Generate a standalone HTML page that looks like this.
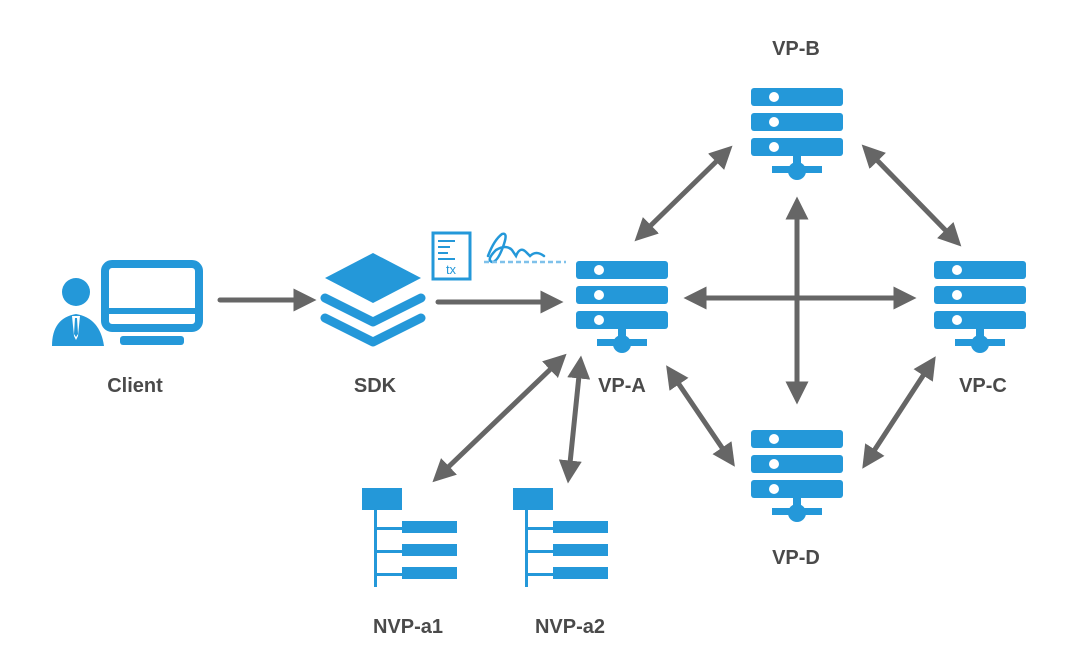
<!DOCTYPE html>
<html><head><meta charset="utf-8"><style>
html,body{margin:0;padding:0;background:#fff;}
svg{display:block;}
text{font-family:"Comic Sans MS","Liberation Sans",sans-serif;font-weight:bold;fill:#4a4a4a;font-size:20px;text-anchor:middle;}
</style></head><body>
<svg width="1078" height="649" viewBox="0 0 1078 649" xmlns="http://www.w3.org/2000/svg">
<defs>
<marker id="ah" markerWidth="4.6" markerHeight="4.6" refX="2.5" refY="2.3" orient="auto-start-reverse" markerUnits="strokeWidth">
<path d="M0,0 L4.6,2.3 L0,4.6 Z" fill="#666"/>
</marker>
<g id="srv">
<rect x="0" y="0" width="92" height="18" rx="3" fill="#2498d9"/>
<rect x="0" y="25" width="92" height="18" rx="3" fill="#2498d9"/>
<rect x="0" y="50" width="92" height="18" rx="3" fill="#2498d9"/>
<circle cx="23" cy="9" r="5" fill="#fff"/>
<circle cx="23" cy="34" r="5" fill="#fff"/>
<circle cx="23" cy="59" r="5" fill="#fff"/>
<rect x="21" y="78" width="50" height="7" fill="#2498d9"/>
<circle cx="46" cy="83" r="9" fill="#2498d9"/>
<rect x="42" y="68" width="8" height="10" fill="#2498d9"/>
</g>
<g id="nvp">
<rect x="0" y="0" width="40" height="22" fill="#2498d9"/>
<rect x="12" y="22" width="3" height="77" fill="#2498d9"/>
<rect x="12" y="39" width="30" height="3" fill="#2498d9"/>
<rect x="12" y="62" width="30" height="3" fill="#2498d9"/>
<rect x="12" y="85" width="30" height="3" fill="#2498d9"/>
<rect x="40" y="33" width="55" height="12" fill="#2498d9"/>
<rect x="40" y="56" width="55" height="12" fill="#2498d9"/>
<rect x="40" y="79" width="55" height="12" fill="#2498d9"/>
</g>
</defs>

<g stroke="#666" stroke-width="5" fill="none" stroke-linecap="round">
<line x1="220" y1="300" x2="306" y2="300" marker-end="url(#ah)"/>
<line x1="438" y1="302" x2="553" y2="302" marker-end="url(#ah)"/>
<line x1="694" y1="298" x2="906" y2="298" marker-start="url(#ah)" marker-end="url(#ah)"/>
<line x1="797" y1="207" x2="797" y2="394" marker-start="url(#ah)" marker-end="url(#ah)"/>
<line x1="642" y1="234" x2="725" y2="153" marker-start="url(#ah)" marker-end="url(#ah)"/>
<line x1="869" y1="152" x2="954" y2="239" marker-start="url(#ah)" marker-end="url(#ah)"/>
<line x1="672" y1="374" x2="729" y2="458" marker-start="url(#ah)" marker-end="url(#ah)"/>
<line x1="930" y1="365" x2="868" y2="460" marker-start="url(#ah)" marker-end="url(#ah)"/>
<line x1="440" y1="475" x2="559" y2="361" marker-start="url(#ah)" marker-end="url(#ah)"/>
<line x1="569" y1="473" x2="580" y2="366" marker-start="url(#ah)" marker-end="url(#ah)"/>
</g>

<use href="#srv" x="576" y="261"/>
<use href="#srv" x="751" y="88"/>
<use href="#srv" x="934" y="261"/>
<use href="#srv" x="751" y="430"/>

<use href="#nvp" x="362" y="488"/>
<use href="#nvp" x="513" y="488"/>

<g fill="#2498d9">
<circle cx="76" cy="292" r="14"/>
<path d="M52,346 Q52,318 76,314 Q100,318 104,346 Z"/>
</g>
<path d="M72,316 L80,316 L78,336 L76,340 L74,336 Z" fill="#fff"/>
<path d="M75,318 L77,318 L78,334 L76,337 L74,334 Z" fill="#2498d9"/>
<rect x="105" y="264" width="94" height="64" rx="7" fill="none" stroke="#2498d9" stroke-width="8"/>
<rect x="105" y="308" width="94" height="6" fill="#2498d9"/>
<rect x="120" y="336" width="64" height="9" rx="3" fill="#2498d9"/>

<g fill="#2498d9">
<path d="M373,253 L421,278 L373,303 L325,278 Z"/>
<path d="M325,298 L373,322 L421,298" fill="none" stroke="#2498d9" stroke-width="9" stroke-linecap="round" stroke-linejoin="round"/>
<path d="M325,318 L373,342 L421,318" fill="none" stroke="#2498d9" stroke-width="9" stroke-linecap="round" stroke-linejoin="round"/>
</g>

<rect x="433" y="233" width="37" height="46" fill="none" stroke="#2498d9" stroke-width="3"/>
<g stroke="#2498d9" stroke-width="2">
<line x1="438" y1="241" x2="455" y2="241"/>
<line x1="438" y1="247" x2="450" y2="247"/>
<line x1="438" y1="253" x2="448" y2="253"/>
<line x1="438" y1="259" x2="455" y2="259"/>
</g>
<text x="451" y="274" style="font-size:13px;font-weight:normal;fill:#2498d9">tx</text>
<path d="M488,256 Q494,240 502,234 Q508,232 504,244 Q498,262 492,262 Q486,260 496,250 Q506,244 512,250 L516,256 Q520,246 526,252 L530,256 Q536,250 544,256" fill="none" stroke="#2498d9" stroke-width="2.5" stroke-linecap="round"/>
<line x1="484" y1="262" x2="566" y2="262" stroke="#7fc1ea" stroke-width="2.5" stroke-dasharray="5,3"/>

<text x="135" y="392">Client</text>
<text x="375" y="392">SDK</text>
<text x="622" y="392">VP-A</text>
<text x="796" y="55">VP-B</text>
<text x="983" y="392">VP-C</text>
<text x="796" y="564">VP-D</text>
<text x="408" y="633">NVP-a1</text>
<text x="570" y="633">NVP-a2</text>
</svg>
</body></html>
